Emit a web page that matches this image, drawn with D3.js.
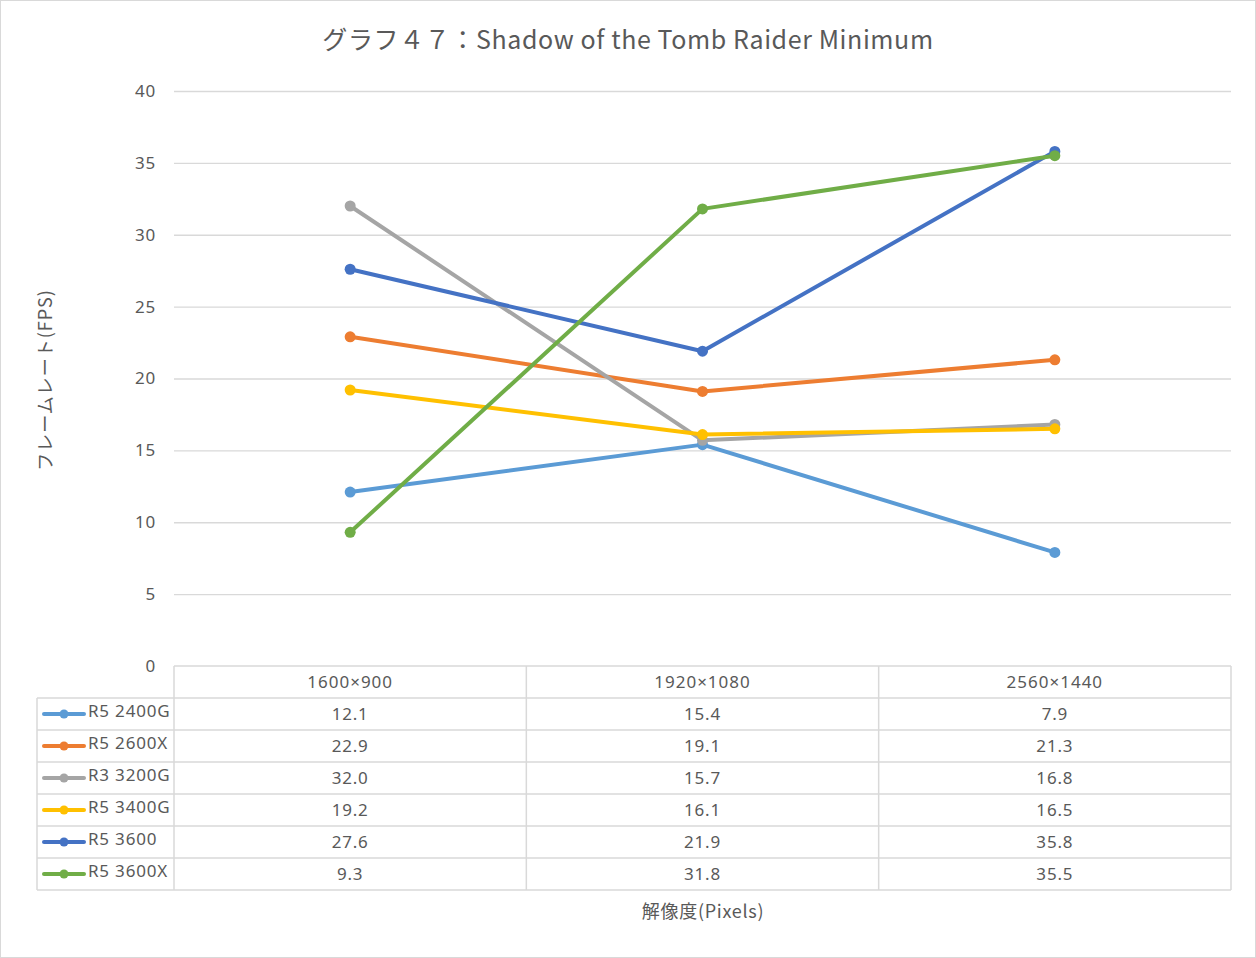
<!DOCTYPE html>
<html><head><meta charset="utf-8">
<script src="https://cdn.jsdelivr.net/npm/d3@7"></script>
<style>body{margin:0;background:#fff;}svg{display:block;font-family:"Noto Sans CJK JP","Noto Sans",sans-serif;}</style>
</head><body>
<svg id="c" width="1256" height="958"></svg>
<script>
const categories = ["1600×900", "1920×1080", "2560×1440"];
const seriesNames = ["R5 2400G", "R5 2600X", "R3 3200G", "R5 3400G", "R5 3600", "R5 3600X"];
const r5_2400g = [12.1, 15.4, 7.9];
const r5_2600x = [22.9, 19.1, 21.3];
const r3_3200g = [32.0, 15.7, 16.8];
const r5_3400g = [19.2, 16.1, 16.5];
const r5_3600 = [27.6, 21.9, 35.8];
const r5_3600x = [9.3, 31.8, 35.5];
const yTicks = [0, 5, 10, 15, 20, 25, 30, 35, 40];
const colors = ["#5B9BD5", "#ED7D31", "#A5A5A5", "#FFC000", "#4472C4", "#70AD47"];
const title = "グラフ４７：Shadow of the Tomb Raider Minimum";
const yTitle = "フレームレート(FPS)";
const xTitle = "解像度(Pixels)";

const values = [r5_2400g, r5_2600x, r3_3200g, r5_3400g, r5_3600, r5_3600x];
const series = seriesNames.map((n, i) => ({name: n, values: values[i], color: colors[i]}));

const svg = d3.select("#c");
svg.append("rect").attr("x", 0.5).attr("y", 0.5).attr("width", 1255).attr("height", 957)
  .attr("fill", "#fff").attr("stroke", "#d9d9d9");

const pL = 174, pR = 1231, pT = 91, pB = 666;
const x = d3.scaleBand().domain(categories).range([pL, pR]);
const y = d3.scaleLinear().domain([0, 40]).range([pB, pT]);
const textCol = "#595959";
const latin = "'Noto Sans',sans-serif";

// title
svg.append("text").attr("x", 628).attr("y", 49).attr("text-anchor", "middle")
  .attr("font-size", 25).attr("letter-spacing", 0.6).attr("fill", textCol).text(title);

// gridlines
const yAxis = d3.axisLeft(y).tickValues(yTicks).tickSize(-(pR - pL)).tickPadding(18);
const gy = svg.append("g").attr("transform", `translate(${pL},0)`).call(yAxis);
gy.select(".domain").remove();
gy.selectAll(".tick line").attr("stroke", "#d9d9d9").attr("stroke-width", 1.3);
gy.selectAll(".tick text").attr("font-size", 17).attr("letter-spacing", 0.8).attr("fill", textCol).attr("font-family", latin);
gy.selectAll(".tick").filter(d => d === 0).select("line").remove();

// y title
svg.append("text").attr("transform", `translate(52,380) rotate(-90)`)
  .attr("text-anchor", "middle").attr("font-size", 18).attr("letter-spacing", 1).attr("fill", textCol).text(yTitle);

// lines
const cx = i => x(categories[i]) + x.bandwidth() / 2;
const line = d3.line().x((d, i) => cx(i)).y(d => y(d));
series.forEach(s => {
  const g = svg.append("g");
  g.append("path").attr("d", line(s.values)).attr("fill", "none")
    .attr("stroke", s.color).attr("stroke-width", 4).attr("stroke-linejoin", "round").attr("stroke-linecap", "round");
  g.selectAll("circle").data(s.values).join("circle")
    .attr("cx", (d, i) => cx(i)).attr("cy", d => y(d))
    .attr("r", 5.5).attr("fill", s.color);
});

// data table
const rowH = 32;
const tLeft = 37;
const nRows = seriesNames.length + 1;
const rowY = d3.scaleBand().domain(d3.range(nRows)).range([pB, pB + rowH * nRows]);
const tb = svg.append("g");
const bc = "#d9d9d9";
d3.range(nRows + 1).forEach(i => {
  const yy = pB + i * rowH;
  tb.append("line").attr("x1", i === 0 ? pL : tLeft).attr("x2", pR)
    .attr("y1", yy).attr("y2", yy).attr("stroke", bc).attr("stroke-width", 1.5);
});
const bottomT = pB + rowH * nRows;
tb.append("line").attr("x1", tLeft).attr("x2", tLeft).attr("y1", pB + rowH).attr("y2", bottomT).attr("stroke", bc).attr("stroke-width", 1.5);
[pL, ...categories.map(c => x(c) + x.bandwidth())].forEach(xx => {
  tb.append("line").attr("x1", xx).attr("x2", xx).attr("y1", pB).attr("y2", bottomT).attr("stroke", bc).attr("stroke-width", 1.5);
});
categories.forEach((c, j) => {
  tb.append("text").attr("x", cx(j)).attr("y", rowY(0) + rowH / 2 + 6)
    .attr("text-anchor", "middle").attr("font-size", 17).attr("letter-spacing", 1).attr("fill", textCol)
    .attr("font-family", latin).text(c);
});
series.forEach((s, i) => {
  const ry = rowY(i + 1) + rowH / 2;
  tb.append("line").attr("x1", 44).attr("x2", 84).attr("y1", ry).attr("y2", ry)
    .attr("stroke", s.color).attr("stroke-width", 4).attr("stroke-linecap", "round");
  tb.append("circle").attr("cx", 64).attr("cy", ry).attr("r", 4.5).attr("fill", s.color);
  tb.append("text").attr("x", 88).attr("y", ry + 3).attr("font-size", 17).attr("letter-spacing", 0.8).attr("fill", textCol)
    .attr("font-family", latin).text(s.name);
  s.values.forEach((v, j) => {
    tb.append("text").attr("x", cx(j)).attr("y", ry + 6)
      .attr("text-anchor", "middle").attr("font-size", 17).attr("letter-spacing", 0.8).attr("fill", textCol)
      .attr("font-family", latin).text(v.toFixed(1));
  });
});

// x title
svg.append("text").attr("x", 703).attr("y", 918).attr("text-anchor", "middle")
  .attr("font-size", 18).attr("letter-spacing", 0.7).attr("fill", textCol).text(xTitle);
</script>
</body></html>
